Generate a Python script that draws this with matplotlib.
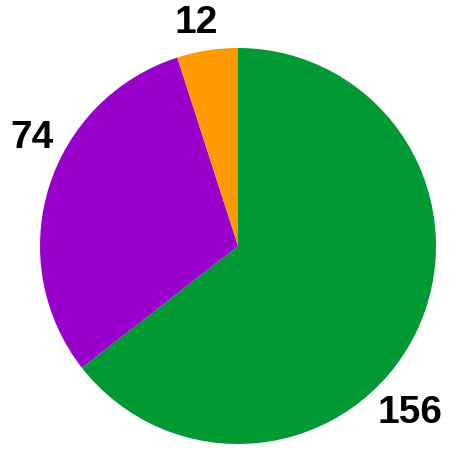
import numpy as np
import matplotlib
matplotlib.use("Agg")
import matplotlib.pyplot as plt

values = [156, 74, 12]
labels = ["156", "74", "12"]
colors = ["#009933", "#9900CC", "#FF9900"]

# label placement (angle in degrees, distance in radii)
label_angles = [-43.6, 151.6, 100.5]
label_dists = [1.2, 1.18, 1.16]
label_dy = -0.016

W, H = 467, 463
cx, cy, R = 238, 246, 198

fig = plt.figure(figsize=(W / 100, H / 100), dpi=100)
ax = fig.add_axes([0, 0, 1, 1])
ax.pie(values, colors=colors, startangle=90, counterclock=False,
       radius=1, center=(0, 0), wedgeprops=dict(linewidth=0))
ax.set_xlim(-cx / R, (W - cx) / R)
ax.set_ylim(-(H - cy) / R, cy / R)
ax.set_aspect("auto")
ax.axis("off")

for lab, a, d in zip(labels, label_angles, label_dists):
    t = np.deg2rad(a)
    ax.text(d * np.cos(t), d * np.sin(t) + label_dy, lab, ha="center", va="center",
            fontsize=28, fontweight="bold", family="Liberation Sans", color="black")

fig.savefig("out.png", dpi=100)
